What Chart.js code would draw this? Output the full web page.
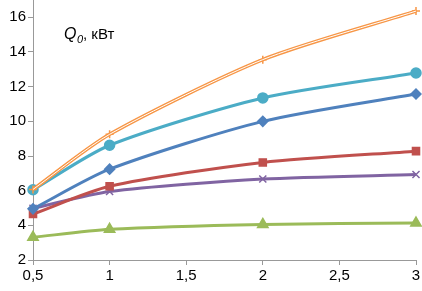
<!DOCTYPE html>
<html>
<head>
<meta charset="utf-8">
<script src="https://cdn.jsdelivr.net/npm/chart.js@4/dist/chart.umd.min.js"></script>
<style>
  html, body { margin: 0; padding: 0; background: #fff; }
  #wrap { width: 422px; height: 291px; position: relative; }
</style>
</head>
<body>
<div id="wrap"><canvas id="chart"></canvas></div>
<script>
// x values and series
const xValues = [0.5, 1, 2, 3];
const orangeSeries = [6.07, 9.25, 13.56, 16.36];
const tealSeries = [6.05, 8.62, 11.35, 12.79];
const blueSeries = [4.95, 7.24, 10.0, 11.58];
const redSeries = [4.65, 6.25, 7.63, 8.28];
const purpleSeries = [4.98, 5.95, 6.67, 6.93];
const greenSeries = [3.31, 3.77, 4.05, 4.13];
const yTicks = [2, 4, 6, 8, 10, 12, 14, 16];
const xTicks = [0.5, 1, 1.5, 2, 2.5, 3];
const yLabel = 'кВт';

const toPoints = (ys) => xValues.map((x, i) => ({ x: x, y: ys[i] }));

function series(data, color, style, radius, width) {
  return {
    data: toPoints(data),
    borderColor: color,
    backgroundColor: color,
    borderWidth: width,
    pointStyle: style,
    pointRadius: radius,
    pointBorderWidth: 1.5,
    pointBorderColor: color,
    pointBackgroundColor: color,
    tension: 0.25,
    clip: false
  };
}

// writes "Q0, кВт" in the top-left of the plot
const titlePlugin = {
  id: 'qTitle',
  afterDraw(chart) {
    const ctx = chart.ctx;
    ctx.save();
    ctx.fillStyle = '#000';
    ctx.textBaseline = 'alphabetic';
    ctx.font = 'italic 16px "Liberation Sans", Arial, sans-serif';
    ctx.fillText('Q', 64, 39);
    ctx.font = 'italic 11px "Liberation Sans", Arial, sans-serif';
    ctx.fillText('0', 77, 43);
    ctx.font = '15px "Liberation Sans", Arial, sans-serif';
    ctx.fillText(', ' + yLabel, 83, 39);
    ctx.restore();
  }
};

// first dataset is painted last, so the white core of the orange line goes first
const orangeInner = series(orangeSeries, '#ffffff', false, 0, 1);
const orangeOuter = series(orangeSeries, '#F79646', 'cross', 4, 3.5);

new Chart(document.getElementById('chart'), {
  type: 'line',
  data: {
    datasets: [
      orangeInner,
      orangeOuter,
      series(tealSeries, '#4BACC6', 'circle', 5, 3),
      series(blueSeries, '#4F81BD', 'rectRot', 5, 3),
      series(redSeries, '#C0504D', 'rect', 5, 3),
      series(purpleSeries, '#8064A2', 'crossRot', 5, 3),
      series(greenSeries, '#9BBB59', 'triangle', 6, 3)
    ]
  },
  options: {
    responsive: true,
    maintainAspectRatio: false,
    animation: false,
    layout: {
      autoPadding: false,
      padding: { top: 0, right: 6, bottom: 0, left: 0 }
    },
    plugins: {
      legend: { display: false },
      tooltip: { enabled: false }
    },
    scales: {
      x: {
        type: 'linear',
        min: 0.5,
        max: 3,
        afterBuildTicks: (axis) => { axis.ticks = xTicks.map(v => ({ value: v })); },
        afterFit: (axis) => {
          axis.height = 31;
          axis.paddingLeft = 0;
          axis.paddingRight = 0;
        },
        grid: {
          drawOnChartArea: false,
          color: '#999',
          tickLength: 5
        },
        border: { color: '#999', width: 1 },
        ticks: {
          color: '#000',
          padding: 2,
          font: { family: '"Liberation Sans", Arial, sans-serif', size: 15 },
          callback: (v) => String(v).replace('.', ',')
        }
      },
      y: {
        min: 2,
        max: 17,
        afterBuildTicks: (axis) => { axis.ticks = yTicks.map(v => ({ value: v })); },
        afterFit: (axis) => {
          axis.width = 33;
          axis.paddingTop = 0;
          axis.paddingBottom = 0;
        },
        grid: {
          drawOnChartArea: false,
          color: '#999',
          tickLength: 5
        },
        border: { color: '#999', width: 1 },
        ticks: {
          color: '#000',
          padding: 2,
          font: { family: '"Liberation Sans", Arial, sans-serif', size: 15 }
        }
      }
    }
  },
  plugins: [titlePlugin]
});
</script>
</body>
</html>
